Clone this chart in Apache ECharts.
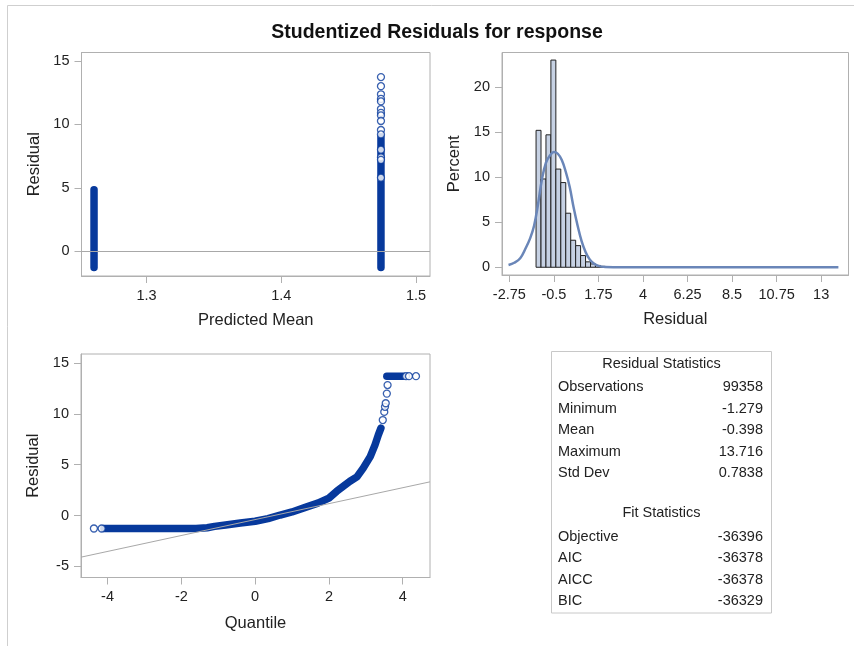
<!DOCTYPE html>
<html>
<head>
<meta charset="utf-8">
<title>Studentized Residuals for response</title>
<script src="https://cdn.jsdelivr.net/npm/echarts@6/dist/echarts.min.js"></script>
<style>
  html, body { margin: 0; padding: 0; background: #fff; }
  #main { width: 854px; height: 646px; }
</style>
</head>
<body>
<div id="main"></div>
<script>
// ---- data ----
// residual vs predicted mean: two predicted values, solid run of points + loose points above
const predMean = [1.261, 1.474];
const denseLow = [-1.279, -1.279];
const denseHigh = [4.85, 9.0];
const looseResid = [13.716, 13.0, 12.36, 12.0, 11.8, 11.2, 10.9, 10.7, 10.26, 9.55, 9.2, 8.0, 7.4, 7.2, 5.8];

// histogram (percent) of residuals, bin width 0.25
const binMid = [-1.275, -1.025, -0.775, -0.525, -0.275, -0.025, 0.225, 0.475, 0.725, 0.975, 1.225, 1.475, 1.725, 1.975];
const binPct = [15.2, 9.8, 14.7, 23.0, 10.9, 9.4, 6.0, 3.0, 2.4, 1.3, 0.6, 0.37, 0.2, 0.1];
const binWidth = 0.25;
// kernel density curve
const kdeX = [-2.79, -2.5, -2.2, -1.95, -1.7, -1.5, -1.3, -1.1, -0.9, -0.7, -0.5, -0.3, -0.1, 0.1, 0.3, 0.5, 0.7, 0.9, 1.1, 1.3, 1.5, 1.75, 2.1, 3.0, 13.87];
const kdeY = [0.25, 0.5, 1.0, 2.0, 3.2, 4.6, 7.0, 9.8, 11.6, 12.4, 12.8, 12.6, 11.9, 10.6, 8.9, 6.6, 4.6, 2.9, 1.7, 0.9, 0.45, 0.15, 0.03, 0, 0];

// normal quantile plot: solid band of points, then loose points
const qqBandQ = [-4.1, -1.6, -1.3, -1.1, -0.8, -0.4, 0, 0.35, 0.68, 1.0, 1.36, 1.7, 2.0, 2.21, 2.39, 2.57, 2.76, 2.93, 3.12, 3.25, 3.34, 3.41];
const qqBandR = [-1.279, -1.279, -1.2, -1.07, -0.93, -0.74, -0.56, -0.3, 0.05, 0.35, 0.8, 1.22, 1.72, 2.38, 2.88, 3.37, 3.8, 4.67, 5.8, 6.96, 7.94, 8.6];
const qqTopQ = [3.57, 4.02];
const qqLooseQ = [-4.37, -4.16, 3.46, 3.5, 3.52, 3.54, 3.57, 3.59, 4.09, 4.17, 4.36];
const qqLooseR = [-1.279, -1.279, 9.4, 10.2, 10.7, 11.05, 12.0, 12.84, 13.716, 13.716, 13.716];

// tick labels
const scatterXTicks = [1.3, 1.4, 1.5];
const scatterYTicks = [0, 5, 10, 15];
const histXTicks = [-2.75, -0.5, 1.75, 4, 6.25, 8.5, 10.75, 13];
const histYTicks = [0, 5, 10, 15, 20];
const qqXTicks = [-4, -2, 0, 2, 4];
const qqYTicks = [-5, 0, 5, 10, 15];

// statistics table
const resLabels = ['Observations', 'Minimum', 'Mean', 'Maximum', 'Std Dev'];
const resValues = ['99358', '-1.279', '-0.398', '13.716', '0.7838'];
const fitLabels = ['Objective', 'AIC', 'AICC', 'BIC'];
const fitValues = ['-36396', '-36378', '-36378', '-36329'];
const meanResid = -0.398;
const sdResid = 0.7838;
const maxResid = 13.716;

// ---- styling ----
const FONT = "'Liberation Sans', Arial, sans-serif";
const TXT = '#222';
const AXC = '#b0b0b0';
const BLUE = '#07399c';

function valueAxis(grid, min, max, ticks, name, gap) {
  return {
    type: 'value', gridIndex: grid, min: min, max: max,
    name: name, nameLocation: 'middle', nameGap: gap,
    nameTextStyle: { fontFamily: FONT, fontSize: 16.5, color: TXT },
    axisLine: { show: true, onZero: false, lineStyle: { color: AXC } },
    axisTick: { show: true, length: 7, customValues: ticks, lineStyle: { color: AXC } },
    axisLabel: { customValues: ticks, margin: 12, fontFamily: FONT, fontSize: 14.5, color: TXT },
    splitLine: { show: false }
  };
}

const hollow = {
  type: 'scatter', symbol: 'circle', symbolSize: 7, z: 4,
  itemStyle: { color: '#fff', borderColor: BLUE, borderWidth: 1.3 }
};
const band = {
  type: 'line', symbol: 'none', z: 3, silent: true,
  lineStyle: { color: BLUE, width: 7.5, cap: 'round', join: 'round' }
};
const refLine = {
  silent: true, symbol: 'none', label: { show: false },
  lineStyle: { color: '#a8a8a8', width: 1, type: 'solid' }
};

const chart = echarts.init(document.getElementById('main'));

const qqMin = -4.72, qqMax = 4.74;

chart.setOption({
  backgroundColor: '#fff',
  animation: false,
  title: {
    text: 'Studentized Residuals for response',
    left: 437, top: 23, textAlign: 'center', padding: 0,
    textStyle: { fontFamily: FONT, fontSize: 19.5, fontWeight: 'bold', color: '#111' }
  },
  grid: [
    { left: 81.5, top: 52.5, width: 348.5, height: 223.5, show: true, borderColor: AXC, borderWidth: 1 },
    { left: 502, top: 52.5, width: 346.5, height: 222.5, show: true, borderColor: AXC, borderWidth: 1 },
    { left: 81, top: 354, width: 349, height: 223.5, show: true, borderColor: AXC, borderWidth: 1 }
  ],
  xAxis: [
    valueAxis(0, 1.2517, 1.5104, scatterXTicks, 'Predicted Mean', 36),
    valueAxis(1, -3.12, 14.38, histXTicks, 'Residual', 36),
    valueAxis(2, qqMin, qqMax, qqXTicks, 'Quantile', 37)
  ],
  yAxis: [
    valueAxis(0, -1.94, 15.65, scatterYTicks, 'Residual', 39),
    valueAxis(1, -0.86, 23.84, histYTicks, 'Percent', 39),
    valueAxis(2, -6.1, 15.9, qqYTicks, 'Residual', 39)
  ],
  series: [
    // residual vs predicted, zero reference line sits behind the points
    {
      type: 'line', xAxisIndex: 0, yAxisIndex: 0, z: 1, data: [],
      markLine: Object.assign({}, refLine, { data: [{ yAxis: 0 }] })
    },
    Object.assign({}, band, {
      xAxisIndex: 0, yAxisIndex: 0,
      data: [[predMean[0], denseLow[0]], [predMean[0], denseHigh[0]]]
    }),
    Object.assign({}, band, {
      xAxisIndex: 0, yAxisIndex: 0,
      data: [[predMean[1], denseLow[1]], [predMean[1], denseHigh[1]]]
    }),
    Object.assign({}, hollow, {
      xAxisIndex: 0, yAxisIndex: 0,
      data: looseResid.map(r => [predMean[1], r])
    }),
    // histogram
    {
      type: 'custom', xAxisIndex: 1, yAxisIndex: 1, z: 2,
      data: binMid.map((m, i) => [m - binWidth / 2, m + binWidth / 2, binPct[i]]),
      renderItem: function (params, api) {
        const p0 = api.coord([api.value(0), api.value(2)]);
        const p1 = api.coord([api.value(1), 0]);
        return {
          type: 'rect',
          shape: { x: p0[0], y: p0[1], width: p1[0] - p0[0], height: p1[1] - p0[1] },
          style: { fill: '#c6d1e3', stroke: '#222', lineWidth: 1 }
        };
      }
    },
    {
      type: 'line', xAxisIndex: 1, yAxisIndex: 1, z: 3, symbol: 'none', smooth: 0.4,
      lineStyle: { color: '#6a86b8', width: 2.5 },
      data: kdeX.map((x, i) => [x, kdeY[i]])
    },
    // normal quantile plot, fitted normal line behind the points
    {
      type: 'line', xAxisIndex: 2, yAxisIndex: 2, z: 1, data: [],
      markLine: Object.assign({}, refLine, {
        data: [[
          { coord: [qqMin, meanResid + sdResid * qqMin] },
          { coord: [qqMax, meanResid + sdResid * qqMax] }
        ]]
      })
    },
    Object.assign({}, band, {
      xAxisIndex: 2, yAxisIndex: 2,
      data: qqBandQ.map((q, i) => [q, qqBandR[i]])
    }),
    Object.assign({}, band, {
      xAxisIndex: 2, yAxisIndex: 2,
      data: qqTopQ.map(q => [q, maxResid])
    }),
    Object.assign({}, hollow, {
      xAxisIndex: 2, yAxisIndex: 2,
      data: qqLooseQ.map((q, i) => [q, qqLooseR[i]])
    })
  ],
  graphic: [
    // outer frame of the figure
    { type: 'rect', silent: true, shape: { x: 7.5, y: 5.5, width: 900, height: 700 },
      style: { fill: 'none', stroke: '#cfcfcf', lineWidth: 1 } },
    // statistics box
    { type: 'rect', silent: true, shape: { x: 551.5, y: 351.5, width: 220, height: 261.5 },
      style: { fill: '#fff', stroke: '#c8c8c8', lineWidth: 1 } },
    { type: 'text', x: 661.5, y: 364, style: { text: 'Residual Statistics', font: '14.5px ' + FONT, fill: TXT, textAlign: 'center', textVerticalAlign: 'middle' } },
    { type: 'text', x: 661.5, y: 513, style: { text: 'Fit Statistics', font: '14.5px ' + FONT, fill: TXT, textAlign: 'center', textVerticalAlign: 'middle' } }
  ]
    .concat(resLabels.map((t, i) => ({ type: 'text', x: 558, y: 387 + i * 21.5, style: { text: t, font: '14.5px ' + FONT, fill: TXT, textVerticalAlign: 'middle' } })))
    .concat(resValues.map((t, i) => ({ type: 'text', x: 763, y: 387 + i * 21.5, style: { text: t, font: '14.5px ' + FONT, fill: TXT, textAlign: 'right', textVerticalAlign: 'middle' } })))
    .concat(fitLabels.map((t, i) => ({ type: 'text', x: 558, y: 537 + i * 21.3, style: { text: t, font: '14.5px ' + FONT, fill: TXT, textVerticalAlign: 'middle' } })))
    .concat(fitValues.map((t, i) => ({ type: 'text', x: 763, y: 537 + i * 21.3, style: { text: t, font: '14.5px ' + FONT, fill: TXT, textAlign: 'right', textVerticalAlign: 'middle' } })))
});
</script>
</body>
</html>
